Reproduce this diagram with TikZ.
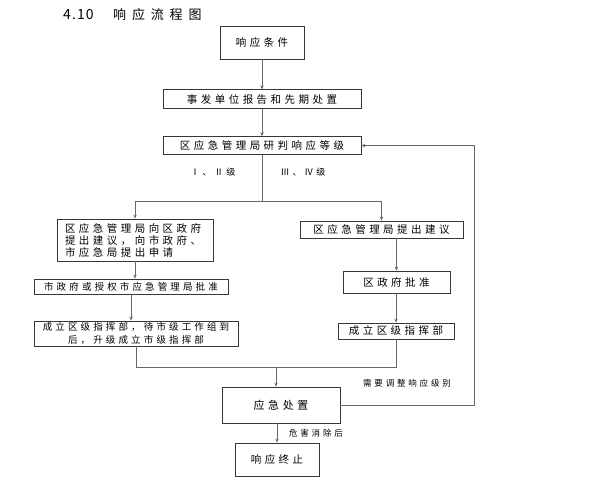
\documentclass[tikz,border=0pt]{standalone}
\usepackage{fontspec}
\setmainfont{Noto Sans CJK SC}
\newfontfamily\cjk[LetterSpace=33]{Noto Sans CJK SC}
\newfontfamily\cjktitle[LetterSpace=45]{Noto Sans CJK SC}
\newfontfamily\numtitle[LetterSpace=8]{Noto Sans CJK SC}
\usetikzlibrary{arrows.meta, positioning, calc}
\definecolor{framegray}{RGB}{55, 55, 55}
\definecolor{linegray}{RGB}{105, 105, 105}
\tikzset{
    block/.style={rectangle, draw=framegray, line width=0.8pt, inner sep=0pt, align=center, font=\cjk\fontsize{10.5}{12}\selectfont},
    smallblock/.style={block, font=\cjk\fontsize{9.5}{12.5}\selectfont},
    line/.style={draw=linegray, line width=0.8pt, -{Stealth[length=4pt, width=3.5pt]}},
    link/.style={draw=linegray, line width=0.8pt},
    note/.style={inner sep=0pt, font=\cjk\fontsize{8.5}{10}\selectfont}
}

\begin{document}
\begin{tikzpicture}[x=1pt, y=-1pt]
    \useasboundingbox (0,0) rectangle (590,483);
    \node[anchor=west, inner sep=0pt, font=\fontsize{13}{15}\selectfont] (title) at (63,15) {\makebox[50pt][l]{\numtitle\fontsize{14}{15}\selectfont 4.10}{\cjktitle 响应流程图}};

    % main column
    \node[block, minimum width=84pt, minimum height=33pt] (cond) at (262,42.5) {响应条件};
    \node[block, minimum width=198pt, minimum height=19pt, below=30pt of cond] (report) {事发单位报告和先期处置};
    \node[block, minimum width=198pt, minimum height=18pt, below=27pt of report] (judge) {区应急管理局研判响应等级};

    % levels I, II
    \node[block, minimum width=156pt, minimum height=42pt, text width=140pt, align=left] (cityask) at (135,240) {区应急管理局向区政府\\提出建议，向市政府、\\市应急局提出申请};
    \node[smallblock, minimum width=194pt, minimum height=15pt] (cityok) at (131,286.5) {市政府或授权市应急管理局批准};
    \node[smallblock, minimum width=204pt, minimum height=25pt] (cityhq) at (136,333.5) {成立区级指挥部，待市级工作组到\\后，升级成立市级指挥部};

    % levels III, IV
    \node[block, minimum width=163pt, minimum height=17pt] (distask) at (381.5,229.5) {区应急管理局提出建议};
    \node[block, minimum width=107pt, minimum height=22pt] (distok) at (396.5,282) {区政府批准};
    \node[block, minimum width=116pt, minimum height=16pt] (disthq) at (396,331) {成立区级指挥部};

    \node[block, minimum width=118pt, minimum height=36pt, font=\cjk\fontsize{11}{12}\selectfont] (dispose) at (281,405) {应急处置};
    \node[block, minimum width=84pt, minimum height=33pt] (stop) at (277,459.5) {响应终止};

    % labels
    \node[note, font=\cjk\fontsize{9}{10}\selectfont] (highlvl) at (213,172) {Ⅰ、Ⅱ级};
    \node[note, font=\cjk\fontsize{9}{10}\selectfont] (lowlvl) at (303,172) {Ⅲ、Ⅳ级};
    \node[note] (adjust) at (407,383) {需要调整响应级别};
    \node[note] (clear) at (316,433) {危害消除后};

    \coordinate (fork) at (262,201);
    \coordinate (merge) at (276,367);
    \coordinate (back) at (474,0);

    \draw[line] (cond) -- (report);
    \draw[line] (report) -- (judge);
    \draw[link] (judge.south) -- (fork);
    \draw[line] (fork) -| (cityask.north);
    \draw[line] (fork) -| (distask.north);
    \draw[line] (cityask.south) -- (cityask.south |- cityok.north);
    \draw[line] (cityok.south) -- (cityok.south |- cityhq.north);
    \draw[line] (distok.north |- distask.south) -- (distok.north);
    \draw[line] (disthq.north |- distok.south) -- (disthq.north);
    \draw[link] (cityhq.south) |- (disthq.south |- merge) -- (disthq.south);
    \draw[line] (merge) -- (merge |- dispose.north);
    \draw[line] (dispose.east) -| (back |- judge.east) -- (judge.east);
    \draw[line] (stop.north |- dispose.south) -- (stop.north);
\end{tikzpicture}
\end{document}
